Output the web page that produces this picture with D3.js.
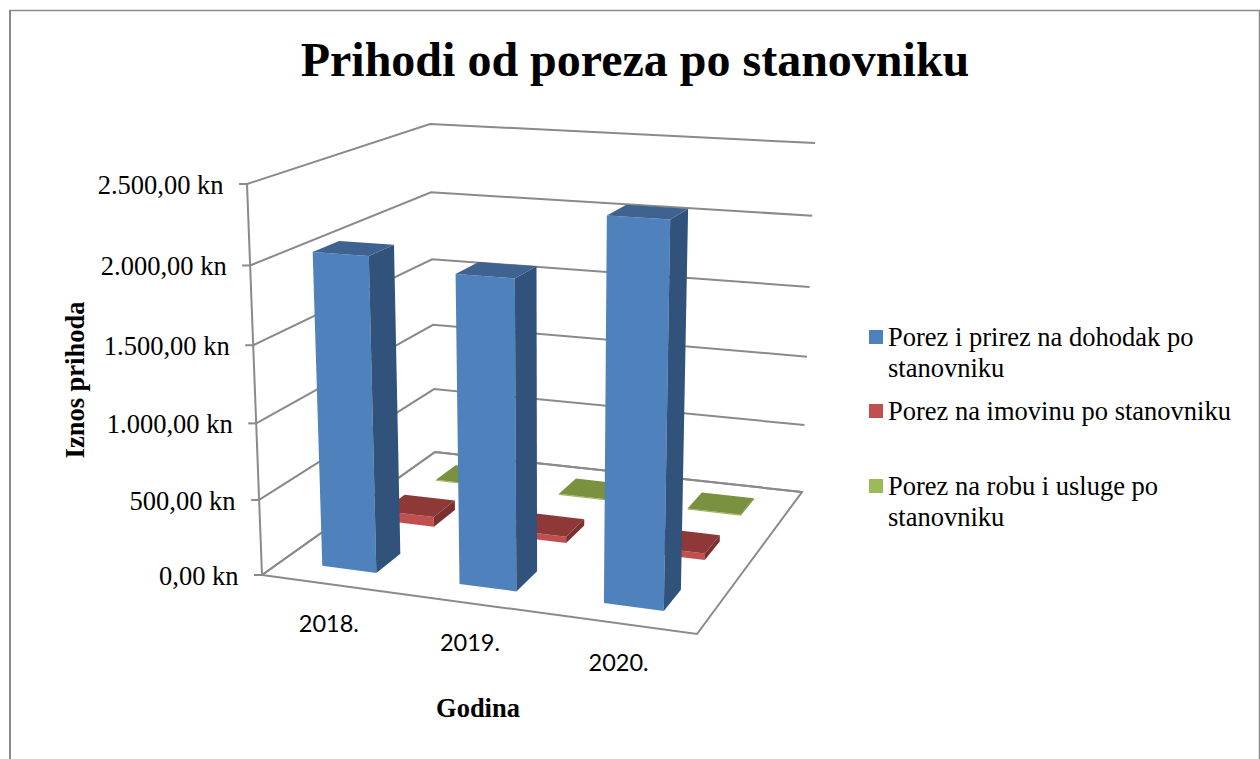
<!DOCTYPE html>
<html>
<head>
<meta charset="utf-8">
<script src="https://cdn.jsdelivr.net/npm/d3@7"></script>
<style>
    html, body { margin: 0; padding: 0; background: #fff; overflow: hidden; }
    svg { display: block; }
    text { fill: #000; font-family: "Liberation Serif", serif; }
</style>
</head>
<body>
<svg id="chart" width="1260" height="759"></svg>
<script>
const categories = ["2018.", "2019.", "2020."];
const seriesNames = [
    "Porez i prirez na dohodak po stanovniku",
    "Porez na imovinu po stanovniku",
    "Porez na robu i usluge po stanovniku"
];
const dohodakValues = [2050, 1980, 2395];
const imovinaValues = [70, 45, 45];
const robaValues = [8, 8, 8];
const valueTicks = [0, 500, 1000, 1500, 2000, 2500];

const seriesValues = [dohodakValues, imovinaValues, robaValues];
const seriesColors = [
    { front: "#4f81bd", side: "#31527a", top: "#3e6391" },
    { front: "#c0504d", side: "#7a302e", top: "#8e3937" },
    { front: "#9bbb59", side: "#65792f", top: "#7a9140" }
];

const svg = d3.select("#chart");
const axisColor = "#8a8a8a";
const textSize = "26.5px";

// unit square -> screen quad (p0 front-left, p1 front-right, p2 back-right, p3 back-left)
function quadProjection(q) {
    const [p0, p1, p2, p3] = q;
    const dx1 = p1[0] - p2[0], dx2 = p3[0] - p2[0], sx = p0[0] - p1[0] + p2[0] - p3[0];
    const dy1 = p1[1] - p2[1], dy2 = p3[1] - p2[1], sy = p0[1] - p1[1] + p2[1] - p3[1];
    const den = dx1 * dy2 - dx2 * dy1;
    const g = (sx * dy2 - dx2 * sy) / den;
    const h = (dx1 * sy - sx * dy1) / den;
    const a = p1[0] - p0[0] + g * p1[0], b = p3[0] - p0[0] + h * p3[0];
    const d = p1[1] - p0[1] + g * p1[1], e = p3[1] - p0[1] + h * p3[1];
    return (u, w) => {
        const z = g * u + h * w + 1;
        return [(a * u + b * w + p0[0]) / z, (d * u + e * w + p0[1]) / z];
    };
}

const floorAt = quadProjection([[262, 575], [697, 634], [802, 492], [435, 452]]);
const ceilingAt = quadProjection([[247, 184], [706, 213], [815, 143], [430, 124]]);

// Excel style gaps: 150% gap width / gap depth
const uScale = d3.scaleBand().domain(categories).range([0, 1]).paddingInner(0.6).paddingOuter(0.3);
const wScale = d3.scaleBand().domain(seriesNames).range([0, 1]).paddingInner(0.6).paddingOuter(0.3);
const heightScale = d3.scaleLinear().domain([0, 2500]).range([0, 1]);

function project(u, w, value) {
    const t = heightScale(value);
    const k = t * 0.95 / (1 + t * (0.95 - 1));   // slight foreshortening towards the top
    const f = floorAt(u, w), c = ceilingAt(u, w);
    return [f[0] + (c[0] - f[0]) * k, f[1] + (c[1] - f[1]) * k];
}

const line = d3.line();
const fmt = d3.formatLocale({ decimal: ",", thousands: ".", grouping: [3], currency: ["", " kn"] }).format("$,.2f");

// frame (bottom edge is cut off in the picture)
svg.append("path")
    .attr("d", "M10,759V10.5H1259.5V759")
    .attr("fill", "none")
    .attr("stroke", axisColor)
    .attr("stroke-width", 1.5);
svg.append("line")
    .attr("x1", 10).attr("x2", 10).attr("y1", 10).attr("y2", 759)
    .attr("stroke", axisColor).attr("stroke-width", 2);

// floor
svg.append("path")
    .attr("d", line([project(0, 0, 0), project(1, 0, 0), project(1, 1, 0), project(0, 1, 0)]) + "Z")
    .attr("fill", "#fff")
    .attr("stroke", axisColor)
    .attr("stroke-width", 2);

// gridlines along side wall + back wall
svg.append("g").selectAll("path")
    .data(valueTicks)
    .join("path")
    .attr("d", d => line([project(0, 0, d), project(0, 1, d), project(1, 1, d)]))
    .attr("fill", "none")
    .attr("stroke", axisColor)
    .attr("stroke-width", 2);

// value axis with ticks and labels
svg.append("path")
    .attr("d", line([project(0, 0, 0), project(0, 0, 2500)]))
    .attr("stroke", axisColor)
    .attr("stroke-width", 2);

const tickG = svg.append("g").selectAll("g")
    .data(valueTicks)
    .join("g")
    .attr("transform", d => `translate(${project(0, 0, d)})`);
tickG.append("line")
    .attr("x1", -8).attr("x2", 0)
    .attr("stroke", axisColor)
    .attr("stroke-width", 2);
tickG.append("text")
    .attr("x", -23.5)
    .attr("y", 10)
    .attr("text-anchor", "end")
    .style("font-size", textSize)
    .text(d => fmt(d));

// bars, back row first so the front ones cover them
const bw = uScale.bandwidth(), bd = wScale.bandwidth();
const bars = [];
seriesNames.forEach((name, s) => {
    categories.forEach((cat, c) => {
        bars.push({ u0: uScale(cat), u1: uScale(cat) + bw, w0: wScale(name), w1: wScale(name) + bd, value: seriesValues[s][c], s });
    });
});
bars.sort((a, b) => b.s - a.s);

const barG = svg.append("g").selectAll("g")
    .data(bars)
    .join("g");
barG.append("path")   // front
    .attr("fill", d => seriesColors[d.s].front)
    .attr("d", d => line([project(d.u0, d.w0, 0), project(d.u1, d.w0, 0), project(d.u1, d.w0, d.value), project(d.u0, d.w0, d.value)]) + "Z");
barG.append("path")   // right side
    .attr("fill", d => seriesColors[d.s].side)
    .attr("d", d => line([project(d.u1, d.w0, 0), project(d.u1, d.w1, 0), project(d.u1, d.w1, d.value), project(d.u1, d.w0, d.value)]) + "Z");
barG.append("path")   // top
    .attr("fill", d => seriesColors[d.s].top)
    .attr("d", d => line([project(d.u0, d.w0, d.value), project(d.u1, d.w0, d.value), project(d.u1, d.w1, d.value), project(d.u0, d.w1, d.value)]) + "Z");

// category labels
const catBaselines = [632, 651, 671];
svg.append("g").selectAll("text")
    .data(categories)
    .join("text")
    .attr("x", d => project(uScale(d) + bw / 2, 0, 0)[0] - 1)
    .attr("y", (d, i) => catBaselines[i])
    .attr("text-anchor", "middle")
    .style("font-family", "Lato, sans-serif")
    .style("font-size", "23.5px")
    .text(d => d);

// title + axis titles
svg.append("text")
    .attr("x", 635).attr("y", 76)
    .attr("text-anchor", "middle")
    .style("font-size", "48px")
    .style("font-weight", "bold")
    .text("Prihodi od poreza po stanovniku");
svg.append("text")
    .attr("x", 478).attr("y", 717)
    .attr("text-anchor", "middle")
    .style("font-size", textSize)
    .style("font-weight", "bold")
    .text("Godina");
svg.append("text")
    .attr("transform", "translate(84,380) rotate(-90)")
    .attr("text-anchor", "middle")
    .style("font-size", textSize)
    .style("font-weight", "bold")
    .text("Iznos prihoda");

// legend
const legendLines = [
    ["Porez i prirez na dohodak po", "stanovniku"],
    ["Porez na imovinu po stanovniku"],
    ["Porez na robu i usluge po", "stanovniku"]
];
const legendY = [346, 420, 495];
const legend = svg.append("g").selectAll("g")
    .data(seriesNames)
    .join("g")
    .attr("transform", (d, i) => `translate(869,${legendY[i]})`);
legend.append("rect")
    .attr("y", -16)
    .attr("width", 14).attr("height", 14)
    .attr("fill", (d, i) => seriesColors[i].front);
legend.append("text")
    .style("font-size", textSize)
    .selectAll("tspan")
    .data((d, i) => legendLines[i])
    .join("tspan")
    .attr("x", 19)
    .attr("y", (d, i) => i * 30.5)
    .text(d => d);
</script>
</body>
</html>
